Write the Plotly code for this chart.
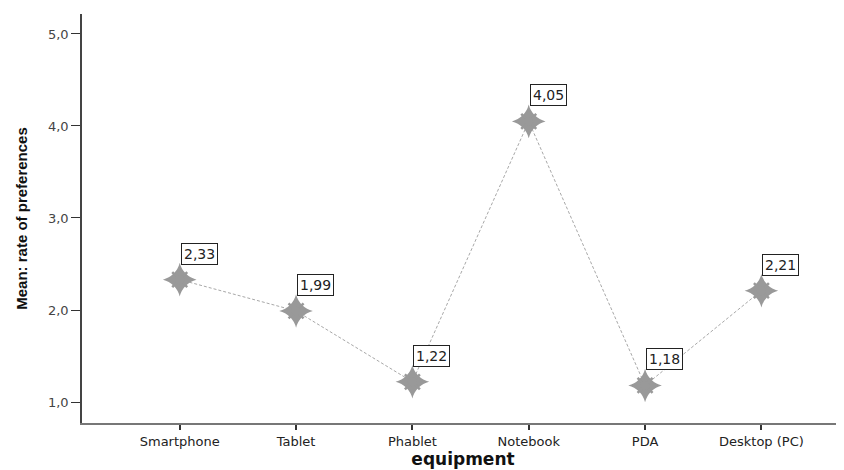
import plotly.graph_objects as go

categories = ["Smartphone", "Tablet", "Phablet", "Notebook", "PDA", "Desktop (PC)"]
means = [2.33, 1.99, 1.22, 4.05, 1.18, 2.21]
y_ticks = [1.0, 2.0, 3.0, 4.0, 5.0]

gray = "#999999"
fig = go.Figure()
fig.add_trace(go.Scatter(
    x=categories, y=means, mode="lines",
    line=dict(color="#a8a8a8", width=1, dash="3px,2px"),
    hoverinfo="skip", showlegend=False))
marker_layers = [
    dict(symbol="star-diamond", size=24, color=gray, line=dict(width=0)),
    dict(symbol="x-thin-open", size=15, color=gray, line=dict(width=2.5, color=gray)),
    dict(symbol="circle", size=9, color=gray, line=dict(width=0)),
]
for mk in marker_layers:
    fig.add_trace(go.Scatter(
        x=categories, y=means, mode="markers", marker=mk,
        hoverinfo="skip", showlegend=False))

for c, v in zip(categories, means):
    fig.add_annotation(
        x=c, y=v, text=f"{v:.2f}".replace(".", ","), showarrow=False,
        xanchor="left", yanchor="bottom", xshift=1, yshift=15,
        bordercolor="#222", borderwidth=1, borderpad=2, bgcolor="white",
        font=dict(family="DejaVu Sans", size=14, color="#222"))

fig.update_layout(
    width=836, height=462,
    margin=dict(l=74, r=0, t=6, b=47),
    paper_bgcolor="white", plot_bgcolor="white",
    separators=",.",
    font=dict(family="DejaVu Sans", size=13, color="#333"),
    xaxis=dict(
        type="category", range=[-0.84, 5.71], automargin=False,
        showline=True, linecolor="#777", linewidth=2,
        ticks="outside", ticklen=5, tickcolor="#333", tickwidth=1.5,
        showgrid=False, zeroline=False,
        tickfont=dict(family="DejaVu Sans", size=13, color="#222"),
        title=dict(text="<b>equipment</b>",
                   font=dict(family="DejaVu Sans", size=17, color="#111"), standoff=5)),
    yaxis=dict(
        range=[0.772, 5.217], tickvals=y_ticks, tickformat=".1f", automargin=False,
        showline=True, linecolor="#444", linewidth=1.5,
        ticks="outside", ticklen=9, tickcolor="#333", tickwidth=1,
        showgrid=False, zeroline=False,
        tickfont=dict(family="DejaVu Sans", size=13, color="#444"),
        title=dict(text="<b>Mean: rate of preferences</b>",
                   font=dict(family="Liberation Sans Narrow, Liberation Sans, Arial", size=15, color="#111"),
                   standoff=17)),
)
fig.write_html("out.html")
